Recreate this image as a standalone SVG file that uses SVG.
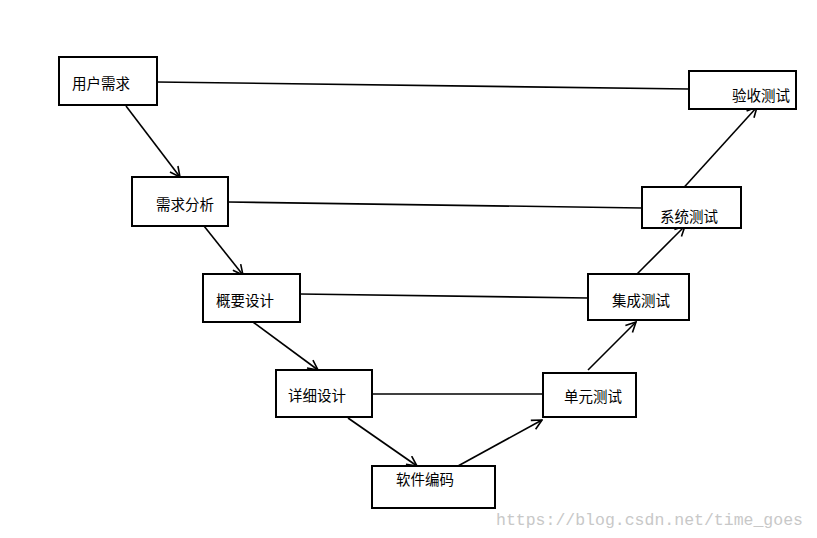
<svg xmlns="http://www.w3.org/2000/svg" width="817" height="538" viewBox="0 0 817 538">
<style>
.box{fill:#fff;stroke:#000;stroke-width:2}
.lbl{font-family:"Noto Sans CJK SC","Noto Sans",sans-serif;font-size:14.5px;fill:#000;dominant-baseline:central}
.ln{stroke:#000;stroke-width:1.6;fill:none}
.ar{stroke:#000;stroke-width:1.6;fill:none;marker-end:url(#v)}
.wm{font-family:"Liberation Mono",monospace;font-size:16.5px;fill:#c8c8c8}
</style>
<defs>
<marker id="v" viewBox="0 0 12 12" refX="11" refY="6" markerWidth="12" markerHeight="12" markerUnits="userSpaceOnUse" orient="auto">
<path d="M1,1 L11,6 L1,11" fill="none" stroke="#000" stroke-width="1.6"/>
</marker>
</defs>
<rect width="817" height="538" fill="#fff"/>
<g id="connectors">
<line class="ln" x1="157" y1="82" x2="689" y2="89"/>
<line class="ln" x1="228" y1="202" x2="642" y2="208"/>
<line class="ln" x1="300" y1="294" x2="588" y2="298"/>
<line class="ln" x1="372" y1="394" x2="543" y2="394"/>
<line class="ar" x1="126" y1="106" x2="180" y2="177"/>
<line class="ar" x1="204" y1="226" x2="243" y2="275"/>
<line class="ar" x1="253" y1="322" x2="318" y2="370"/>
<line class="ar" x1="348" y1="418" x2="417" y2="466"/>
<line class="ar" x1="458" y1="466" x2="542" y2="420"/>
<line class="ar" x1="588" y1="370" x2="636" y2="322"/>
<line class="ar" x1="637" y1="274" x2="685" y2="226"/>
<line class="ar" x1="678" y1="194" x2="757" y2="107"/>
</g>
<g id="n1"><rect class="box" x="59" y="57" width="98" height="48"/><text class="lbl" x="72" y="82">用户需求</text></g>
<g id="n2"><rect class="box" x="132" y="177" width="96" height="49"/><text class="lbl" x="156" y="203">需求分析</text></g>
<g id="n3"><rect class="box" x="203" y="274" width="97" height="48"/><text class="lbl" x="216" y="299">概要设计</text></g>
<g id="n4"><rect class="box" x="276" y="370" width="96" height="47"/><text class="lbl" x="288" y="394">详细设计</text></g>
<g id="n5"><rect class="box" x="372" y="466" width="123" height="42"/><text class="lbl" x="396" y="478">软件编码</text></g>
<g id="n6"><rect class="box" x="543" y="373" width="93" height="44"/><text class="lbl" x="564" y="395">单元测试</text></g>
<g id="n7"><rect class="box" x="588" y="274" width="101" height="46"/><text class="lbl" x="612" y="299">集成测试</text></g>
<g id="n8"><rect class="box" x="642" y="187" width="99" height="41"/><text class="lbl" x="660" y="215">系统测试</text></g>
<g id="n9"><rect class="box" x="689" y="71" width="107" height="38"/><text class="lbl" x="732" y="94">验收测试</text></g>
<text class="wm" x="496" y="525">https://blog.csdn.net/time_goes</text>
</svg>
